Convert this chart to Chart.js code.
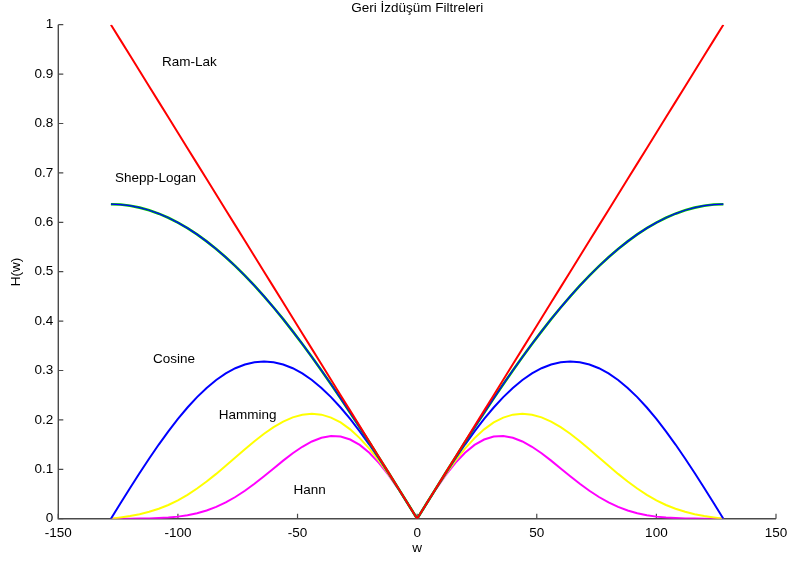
<!DOCTYPE html>
<html><head><meta charset="utf-8">
<script src="https://cdn.jsdelivr.net/npm/chart.js@4"></script>
<style>html,body{margin:0;padding:0;background:#fff}#wrap{width:787px;height:563px}</style>
</head><body><div id="wrap"><canvas id="c" width="787" height="563"></canvas></div>
<script>
const titleText = 'Geri İzdüşüm Filtreleri';
const xTitle = 'w';
const yTitle = 'H(w)';
const xTicks = [-150, -100, -50, 0, 50, 100, 150];
const yTicks = [0, 0.1, 0.2, 0.3, 0.4, 0.5, 0.6, 0.7, 0.8, 0.9, 1];

const w = [-128,-124,-120,-116,-112,-108,-104,-100,-96,-92,-88,-84,-80,-76,-72,-68,-64,-60,-56,-52,-48,-44,-40,-36,-32,-28,-24,-20,-16,-12,-8,-4,
  0,4,8,12,16,20,24,28,32,36,40,44,48,52,56,60,64,68,72,76,80,84,88,92,96,100,104,108,112,116,120,124,128];

const ramLak = [1.0000,0.9688,0.9375,0.9063,0.8750,0.8438,0.8125,0.7813,0.7500,0.7188,0.6875,0.6563,0.6250,0.5938,0.5625,0.5313,0.5000,0.4688,0.4375,0.4063,0.3750,0.3438,0.3125,0.2813,0.2500,0.2188,0.1875,0.1563,0.1250,0.0938,0.0625,0.0313,
  0.0000,0.0313,0.0625,0.0938,0.1250,0.1563,0.1875,0.2188,0.2500,0.2813,0.3125,0.3438,0.3750,0.4063,0.4375,0.4688,0.5000,0.5313,0.5625,0.5938,0.6250,0.6563,0.6875,0.7188,0.7500,0.7813,0.8125,0.8438,0.8750,0.9063,0.9375,0.9688,1.0000];

const sheppLogan = [0.6366,0.6359,0.6336,0.6297,0.6244,0.6175,0.6092,0.5994,0.5882,0.5755,0.5614,0.5460,0.5293,0.5113,0.4921,0.4717,0.4502,0.4275,0.4039,0.3792,0.3537,0.3273,0.3001,0.2722,0.2436,0.2145,0.1848,0.1547,0.1242,0.0934,0.0624,0.0312,
  0,0.0312,0.0624,0.0934,0.1242,0.1547,0.1848,0.2145,0.2436,0.2722,0.3001,0.3273,0.3537,0.3792,0.4039,0.4275,0.4502,0.4717,0.4921,0.5113,0.5293,0.5460,0.5614,0.5755,0.5882,0.5994,0.6092,0.6175,0.6244,0.6297,0.6336,0.6359,0.6366];

const cosine = [0,0.0312,0.0621,0.0924,0.1218,0.1501,0.1768,0.2019,0.2251,0.2461,0.2647,0.2807,0.2941,0.3046,0.3122,0.3168,0.3183,0.3168,0.3122,0.3046,0.2941,0.2807,0.2647,0.2461,0.2251,0.2019,0.1768,0.1501,0.1218,0.0924,0.0621,0.0312,
  0,0.0312,0.0621,0.0924,0.1218,0.1501,0.1768,0.2019,0.2251,0.2461,0.2647,0.2807,0.2941,0.3046,0.3122,0.3168,0.3183,0.3168,0.3122,0.3046,0.2941,0.2807,0.2647,0.2461,0.2251,0.2019,0.1768,0.1501,0.1218,0.0924,0.0621,0.0312,0];

const hamming = [0,0.0026,0.0055,0.0092,0.0140,0.0202,0.0278,0.0372,0.0483,0.0611,0.0753,0.0907,0.1070,0.1238,0.1406,0.1568,0.1719,0.1854,0.1966,0.2052,0.2106,0.2124,0.2106,0.2047,0.1948,0.1808,0.1631,0.1419,0.1175,0.0906,0.0616,0.0311,
  0,0.0311,0.0616,0.0906,0.1175,0.1419,0.1631,0.1808,0.1948,0.2047,0.2106,0.2124,0.2106,0.2052,0.1966,0.1854,0.1719,0.1568,0.1406,0.1238,0.1070,0.0907,0.0753,0.0611,0.0483,0.0372,0.0278,0.0202,0.0140,0.0092,0.0055,0.0026,0];

const hann = [0,0,0.0001,0.0002,0.0005,0.0012,0.0023,0.0042,0.0071,0.0112,0.0167,0.0240,0.0330,0.0439,0.0566,0.0707,0.0860,0.1018,0.1175,0.1324,0.1456,0.1563,0.1638,0.1673,0.1663,0.1603,0.1494,0.1335,0.1130,0.0887,0.0610,0.0310,
  0,0.0310,0.0610,0.0887,0.1130,0.1335,0.1494,0.1603,0.1663,0.1673,0.1638,0.1563,0.1456,0.1324,0.1175,0.1018,0.0860,0.0707,0.0566,0.0439,0.0330,0.0240,0.0167,0.0112,0.0071,0.0042,0.0023,0.0012,0.0005,0.0002,0.0001,0,0];

const curveNames = ['Ram-Lak', 'Shepp-Logan', 'Cosine', 'Hamming', 'Hann'];
// annotation anchors in data units (left edge, vertical centre)
const labelW = [-106.7, -126.3, -110.4, -82.9, -51.7];
const labelH = [0.9245, 0.6897, 0.3233, 0.2100, 0.0580];

const FONT = '"Liberation Sans", Arial, Helvetica, sans-serif';
const pts = arr => w.map((x, i) => ({x: x, y: arr[i]}));

function ds(label, arr, color, width) {
  return {label, data: pts(arr), borderColor: color, borderWidth: width, pointRadius: 0, tension: 0, fill: false};
}

const decor = {
  id: 'decor',
  beforeDatasetsDraw(chart) {
    const {ctx, chartArea: a, scales: {x, y}} = chart;
    ctx.save();
    ctx.strokeStyle = '#4a4a4a';
    ctx.lineWidth = 1.4;
    ctx.beginPath();
    ctx.moveTo(a.left, a.top);
    ctx.lineTo(a.left, a.bottom);
    ctx.lineTo(a.right, a.bottom);
    ctx.stroke();
    ctx.lineWidth = 1.2;
    ctx.beginPath();
    xTicks.forEach(v => { const p = x.getPixelForValue(v); ctx.moveTo(p, a.bottom); ctx.lineTo(p, a.bottom - 5); });
    yTicks.forEach(v => { const p = y.getPixelForValue(v); ctx.moveTo(a.left, p); ctx.lineTo(a.left + 5, p); });
    ctx.stroke();
    ctx.restore();
  },
  afterDraw(chart) {
    const {ctx, chartArea: a, scales: {x, y}} = chart;
    ctx.save();
    ctx.fillStyle = '#000';
    ctx.font = '13.5px ' + FONT;
    ctx.textAlign = 'center';
    ctx.textBaseline = 'middle';
    ctx.fillText(titleText, (a.left + a.right) / 2, 8.5);
    ctx.fillText(xTitle, x.getPixelForValue(0), 548);
    ctx.save();
    ctx.translate(16, 272);
    ctx.rotate(-Math.PI / 2);
    ctx.fillText(yTitle, 0, 0);
    ctx.restore();
    ctx.textAlign = 'left';
    curveNames.forEach((n, i) => ctx.fillText(n, x.getPixelForValue(labelW[i]), y.getPixelForValue(labelH[i])));
    ctx.restore();
  }
};

new Chart(document.getElementById('c'), {
  type: 'line',
  data: {
    datasets: [
      ds('Ram-Lak', ramLak, '#ff0000', 2),
      ds('Shepp-Logan', sheppLogan, '#0000ff', 1.3),
      ds('Shepp-Logan (g)', sheppLogan, '#00c000', 2.6),
      ds('Cosine', cosine, '#0000ff', 2),
      ds('Hamming', hamming, '#ffff00', 2),
      ds('Hann', hann, '#ff00ff', 2)
    ]
  },
  options: {
    responsive: false,
    animation: false,
    devicePixelRatio: 1,
    layout: {padding: {left: 0, right: 11, top: 24.7, bottom: 0}},
    plugins: {legend: {display: false}, tooltip: {enabled: false}, title: {display: false}},
    scales: {
      x: {
        type: 'linear', min: -150, max: 150,
        afterBuildTicks: s => { s.ticks = xTicks.map(v => ({value: v})); },
        afterFit: s => { s.height = 44.3; s.paddingLeft = 0; s.paddingRight = 0; },
        grid: {display: false, drawTicks: false},
        border: {display: false},
        ticks: {padding: 6, color: '#000', font: {family: FONT, size: 13.5}, maxRotation: 0, autoSkip: false,
                callback: v => String(v)}
      },
      y: {
        type: 'linear', min: 0, max: 1,
        afterBuildTicks: s => { s.ticks = yTicks.map(v => ({value: v})); },
        afterFit: s => { s.width = 58.3; s.paddingTop = 0; s.paddingBottom = 0; },
        grid: {display: false, drawTicks: false},
        border: {display: false},
        ticks: {padding: 5, color: '#000', font: {family: FONT, size: 13.5}, autoSkip: false,
                callback: v => String(Number(v.toFixed(1)))}
      }
    }
  },
  plugins: [decor]
});
</script></body></html>
